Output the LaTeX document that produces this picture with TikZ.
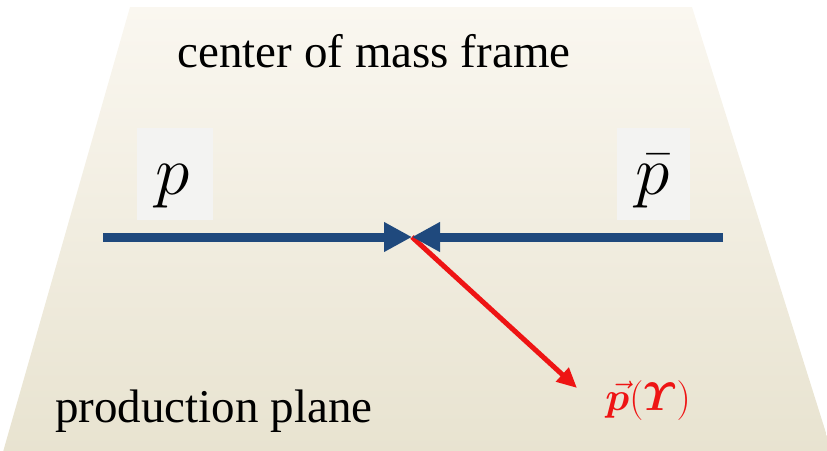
\documentclass[tikz,border=0pt]{standalone}
\usepackage{amsmath}
\usepackage{bm}
\usepackage{graphicx}
\usepackage{fontspec}
\setmainfont{Liberation Serif}
\usetikzlibrary{arrows.meta}
\definecolor{planetop}{RGB}{250,247,240}
\definecolor{planebot}{RGB}{232,227,208}
\definecolor{boxgrey}{RGB}{243,243,242}
\definecolor{beamblue}{RGB}{31,73,125}
\definecolor{momred}{RGB}{238,20,20}
\tikzset{
  x=1pt, y=-1pt,
  bigtext/.style={font=\fontsize{47}{50}\selectfont, inner sep=0pt},
  partlabel/.style={inner sep=0pt, anchor=base},
  labelbox/.style={fill=boxgrey, draw=none},
  beam/.style={draw=beamblue, line width=9pt, -{Triangle[length=28pt,width=28pt]}},
  momentum/.style={draw=momred, line width=5pt, -{Triangle[length=20pt,width=18pt]}}
}
\begin{document}
\begin{tikzpicture}
\useasboundingbox (0,0) rectangle (827,450);
\begin{scope}
\clip (0,0) rectangle (827,450);
\shade[top color=planetop, bottom color=planebot] (130,7) -- (692,7) -- (832,452) -- (3,452) -- cycle;
\end{scope}
\fill[labelbox] (137,128) rectangle (213,220);
\fill[labelbox] (617,128) rectangle (690,220);
\node[bigtext, anchor=base] (title) at (374,67) {center of mass frame};
\node[bigtext, anchor=base west] (plane) at (55,422) {production plane};
\node[partlabel] (p) at (173,194) {\scalebox{2.8}{\Huge$p$}};
\node[partlabel] (pbar) at (653,194) {\scalebox{2.8}{\Huge$\bar{p}$}};
\coordinate (L) at (103,237);
\coordinate (R) at (723,237);
\coordinate (O) at (412,237);
\coordinate (E) at (577,388);
\draw[momentum, line cap=butt] (O) -- (E);
\draw[beam] (L) -- (O);
\draw[beam] (R) -- (O);
\node[text=momred, anchor=base, inner sep=0pt] (py) at (648,410) {\scalebox{1.6}{\Huge$\vec{\bm p}(\bm{\varUpsilon})$}};
\end{tikzpicture}
\end{document}
